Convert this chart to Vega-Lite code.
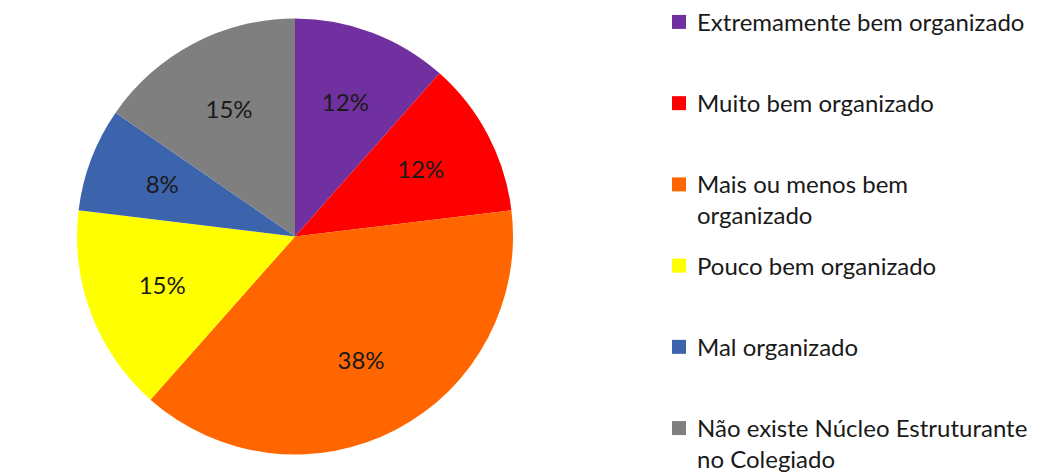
{
  "$schema": "https://vega.github.io/schema/vega-lite/v6.json",
  "padding": 0,
  "background": "white",
  "spacing": 82,
  "config": {"view": {"stroke": null}, "font": "Lato"},
  "datasets": {
    "slices": [
      {"category": "Extremamente bem organizado", "legendText": ["Extremamente bem organizado"], "count": 3, "label": "12%", "order": 1},
      {"category": "Muito bem organizado", "legendText": ["Muito bem organizado"], "count": 3, "label": "12%", "order": 2},
      {"category": "Mais ou menos bem organizado", "legendText": ["Mais ou menos bem", "organizado"], "count": 10, "label": "38%", "order": 3},
      {"category": "Pouco bem organizado", "legendText": ["Pouco bem organizado"], "count": 4, "label": "15%", "order": 4},
      {"category": "Mal organizado", "legendText": ["Mal organizado"], "count": 2, "label": "8%", "order": 5},
      {"category": "Não existe Núcleo Estruturante no Colegiado", "legendText": ["Não existe Núcleo Estruturante", "no Colegiado"], "count": 4, "label": "15%", "order": 6}
    ]
  },
  "hconcat": [
    {
      "width": 590,
      "height": 473,
      "data": {"name": "slices"},
      "encoding": {
        "theta": {"field": "count", "type": "quantitative", "stack": true},
        "order": {"field": "order", "type": "quantitative"}
      },
      "layer": [
        {
          "mark": {"type": "arc", "outerRadius": 218},
          "encoding": {
            "color": {
              "field": "category",
              "type": "nominal",
              "scale": {
                "domain": ["Extremamente bem organizado", "Muito bem organizado", "Mais ou menos bem organizado", "Pouco bem organizado", "Mal organizado", "Não existe Núcleo Estruturante no Colegiado"],
                "range": ["#7030A0", "#FF0000", "#FF6600", "#FFFF00", "#3C64AD", "#7F7F7F"]
              },
              "legend": null
            }
          }
        },
        {
          "mark": {"type": "text", "radius": 142, "fontSize": 24, "color": "#1a1a1a"},
          "encoding": {"text": {"field": "label", "type": "nominal"}}
        }
      ]
    },
    {
      "width": 371,
      "height": 450,
      "data": {"name": "slices"},
      "encoding": {
        "y": {
          "field": "category",
          "type": "nominal",
          "sort": {"field": "order"},
          "scale": {"type": "point", "padding": 0.27},
          "axis": null
        }
      },
      "layer": [
        {
          "mark": {"type": "point", "shape": "square", "filled": true, "size": 196, "opacity": 1},
          "encoding": {
            "x": {"value": 7},
            "color": {
              "field": "category",
              "type": "nominal",
              "scale": {
                "domain": ["Extremamente bem organizado", "Muito bem organizado", "Mais ou menos bem organizado", "Pouco bem organizado", "Mal organizado", "Não existe Núcleo Estruturante no Colegiado"],
                "range": ["#7030A0", "#FF0000", "#FF6600", "#FFFF00", "#3C64AD", "#7F7F7F"]
              },
              "legend": null
            }
          }
        },
        {
          "mark": {"type": "text", "align": "left", "baseline": "alphabetic", "dy": 9, "fontSize": 24, "lineHeight": 31, "color": "#1a1a1a"},
          "encoding": {
            "x": {"value": 25},
            "text": {"field": "legendText"}
          }
        }
      ]
    }
  ]
}
